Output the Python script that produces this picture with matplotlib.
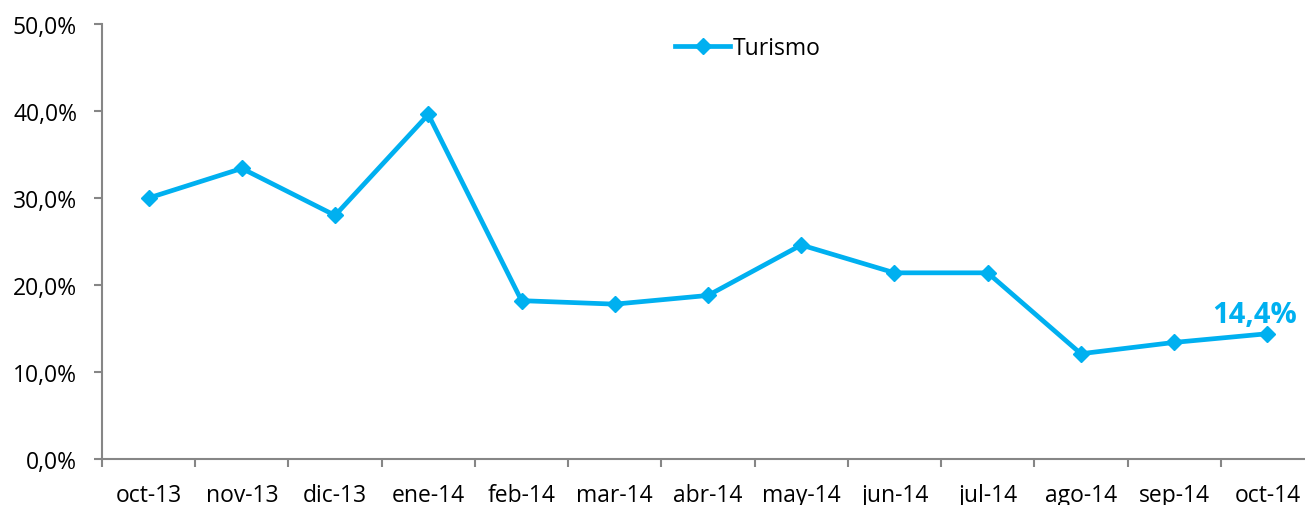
import matplotlib.pyplot as plt
from matplotlib.ticker import FuncFormatter

plt.rcParams['font.family'] = ['Open Sans', 'DejaVu Sans']

meses = ["oct-13", "nov-13", "dic-13", "ene-14", "feb-14", "mar-14", "abr-14",
         "may-14", "jun-14", "jul-14", "ago-14", "sep-14", "oct-14"]
turismo = [30.0, 33.4, 28.0, 39.6, 18.2, 17.8, 18.8, 24.6, 21.4, 21.4, 12.1, 13.4, 14.4]

azul = "#00B0F0"
gris = "#868686"

fig = plt.figure(figsize=(13.05, 5.06), dpi=100)
ax = fig.add_axes([102 / 1305, 46 / 506, 1212 / 1305, 435 / 506])

x = list(range(len(meses)))
ax.plot(x, turismo, color=azul, lw=3.4, marker="D", markersize=8.5, label="Turismo")

ax.set_xlim(-0.5, len(meses) - 0.5)
ax.set_ylim(0, 50)
ax.set_yticks([0, 10, 20, 30, 40, 50])
ax.yaxis.set_major_formatter(FuncFormatter(lambda v, p: f"{v:.1f}%".replace(".", ",")))
ax.set_xticks(x)
ax.set_xticklabels(meses)
ax.set_xticks([i - 0.5 for i in range(len(meses) + 1)], minor=True)
ax.tick_params(axis="x", which="major", length=0, pad=17, labelsize=16.5)
ax.tick_params(axis="x", which="minor", length=6, color=gris, width=1.5)
ax.tick_params(axis="y", length=6, color=gris, width=1.5, labelsize=16.5, pad=12)

for s in ["top", "right"]:
    ax.spines[s].set_visible(False)
for s in ["left", "bottom"]:
    ax.spines[s].set_color(gris)
    ax.spines[s].set_linewidth(1.5)

# etiqueta del último valor
ax.annotate(f"{turismo[-1]:.1f}%".replace(".", ","), (x[-1], turismo[-1]),
            xytext=(-9, 14), textcoords="offset points",
            ha="center", va="center", color=azul, fontsize=21, fontweight="bold")

ax.legend(loc="upper center", bbox_to_anchor=(0.533, 1.02), frameon=False,
          fontsize=16.5, handlelength=2.4, handletextpad=0.1)

fig.savefig("out.png", dpi=100)
